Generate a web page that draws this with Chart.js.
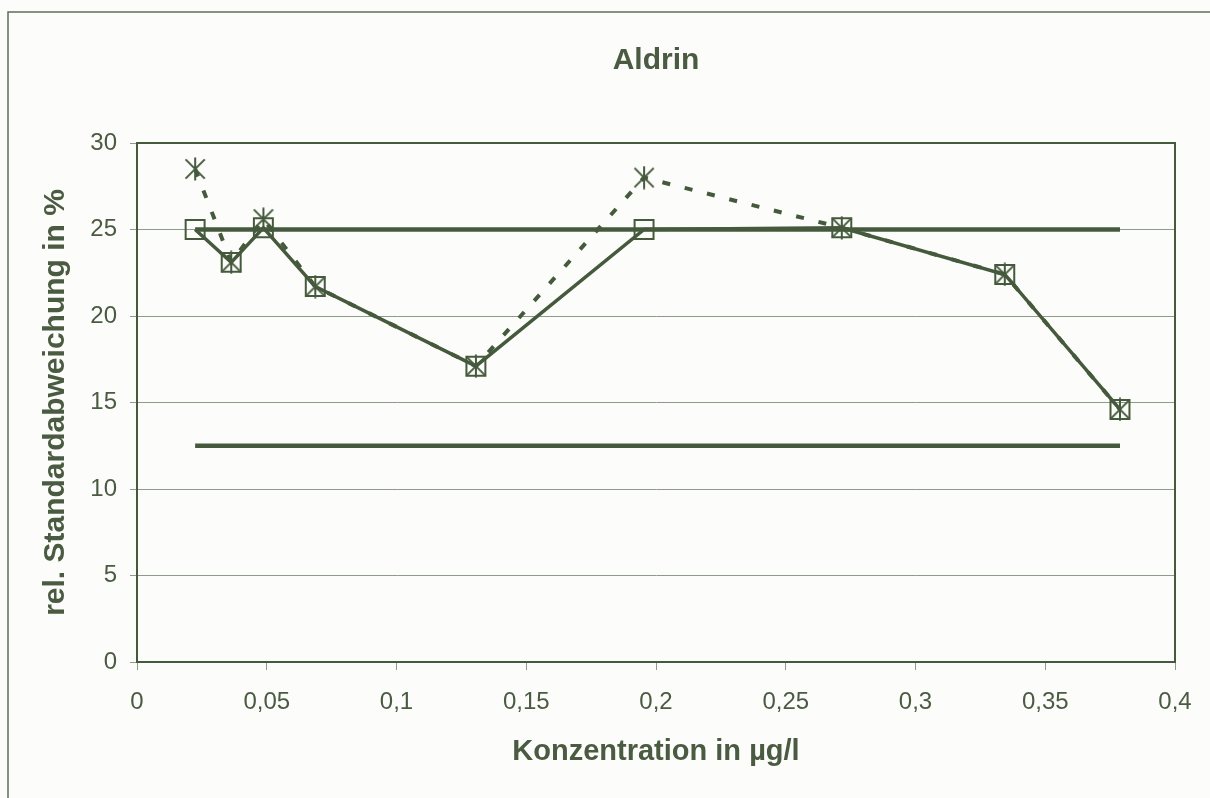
<!DOCTYPE html>
<html>
<head>
<meta charset="utf-8">
<script src="https://cdn.jsdelivr.net/npm/chart.js@4/dist/chart.umd.min.js"></script>
<style>
    html, body { margin: 0; padding: 0; background: #fcfcfa; }
    #c { display: block; }
</style>
</head>
<body>
<canvas id="c" width="1210" height="798"></canvas>
<script>
// Werte
const konzentration = [0.0224, 0.0363, 0.0487, 0.0687, 0.1306, 0.1954, 0.2716, 0.3344, 0.3788];
const rsdKorrigiert = [25.0, 23.1, 25.1, 21.7, 17.1, 25.0, 25.1, 22.4, 14.6];
const rsdGemessen = [28.5, 23.1, 25.6, 21.7, 17.1, 28.0, 25.1, 22.4, 14.6];
const grenzeOben = [25, 25];
const grenzeUnten = [12.5, 12.5];
const xTickLabels = ['0', '0,05', '0,1', '0,15', '0,2', '0,25', '0,3', '0,35', '0,4'];
const yTickLabels = ['0', '5', '10', '15', '20', '25', '30'];

const lineColor = '#455a3c';
const textColor = '#4a5b42';
const gridColor = '#8e9a8a';
const fontFamily = '"Liberation Sans", Arial, sans-serif';

function toPoints(xs, ys) {
    return ys.map((y, i) => ({ x: xs[i], y: y }));
}

// Stern-Marker wie in Excel (X mit senkrechtem Strich)
function makeStar(size) {
    const cv = document.createElement('canvas');
    cv.width = size;
    cv.height = size;
    const g = cv.getContext('2d');
    const m = size / 2;
    const a = size * 0.4;
    g.strokeStyle = lineColor;
    g.lineWidth = 2;
    g.beginPath();
    g.moveTo(m - a, m - a); g.lineTo(m + a, m + a);
    g.moveTo(m + a, m - a); g.lineTo(m - a, m + a);
    g.moveTo(m, 0.5); g.lineTo(m, size - 0.5);
    g.stroke();
    return cv;
}

const frame = {
    id: 'frame',
    beforeDraw(chart) {
        const ctx = chart.ctx;
        ctx.save();
        ctx.fillStyle = '#fcfcfa';
        ctx.fillRect(0, 0, chart.width, chart.height);
        ctx.strokeStyle = '#5f6e5a';
        ctx.lineWidth = 1.5;
        ctx.beginPath();
        ctx.moveTo(8, chart.height);
        ctx.lineTo(8, 12);
        ctx.lineTo(chart.width, 12);
        ctx.stroke();
        ctx.restore();
    },
    beforeDatasetsDraw(chart) {
        const a = chart.chartArea;
        const ctx = chart.ctx;
        ctx.save();
        ctx.strokeStyle = lineColor;
        ctx.lineWidth = 2;
        ctx.strokeRect(a.left, a.top, a.right - a.left, a.bottom - a.top);
        ctx.restore();
    }
};

const xEnds = [konzentration[0], konzentration[konzentration.length - 1]];

new Chart(document.getElementById('c'), {
    type: 'line',
    data: {
        datasets: [
            {
                data: toPoints(konzentration, rsdKorrigiert),
                borderColor: lineColor,
                borderWidth: 3.5,
                pointStyle: 'rect',
                pointRadius: 13.4,
                pointBorderWidth: 2,
                pointBorderColor: lineColor,
                pointBackgroundColor: 'rgba(0,0,0,0)'
            },
            {
                data: toPoints(konzentration, rsdGemessen),
                borderColor: lineColor,
                borderWidth: 4,
                borderDash: [8, 15],
                pointStyle: makeStar(24),
                pointRadius: 12
            },
            {
                data: toPoints(xEnds, grenzeOben),
                borderColor: lineColor,
                borderWidth: 4.5,
                pointRadius: 0
            },
            {
                data: toPoints(xEnds, grenzeUnten),
                borderColor: lineColor,
                borderWidth: 4.5,
                pointRadius: 0
            }
        ]
    },
    options: {
        responsive: false,
        animation: false,
        devicePixelRatio: 1,
        layout: { padding: { left: 0, top: 0, right: 35, bottom: 0 } },
        plugins: {
            legend: { display: false },
            tooltip: { enabled: false },
            title: {
                display: true,
                fullSize: false,
                text: 'Aldrin',
                color: textColor,
                font: { family: fontFamily, size: 30, weight: 'bold' },
                padding: { top: 43, bottom: 64 }
            }
        },
        scales: {
            x: {
                type: 'linear',
                min: 0,
                max: 0.4,
                afterFit(scale) { scale.height = 136; },
                afterBuildTicks(scale) {
                    scale.ticks = xTickLabels.map((t, i) => ({ value: i * 0.05 }));
                },
                ticks: {
                    color: textColor,
                    font: { family: fontFamily, size: 24 },
                    padding: 18,
                    maxRotation: 0,
                    autoSkip: false,
                    callback: (v, i) => xTickLabels[i]
                },
                grid: {
                    drawOnChartArea: false,
                    drawTicks: true,
                    tickLength: 8,
                    tickColor: gridColor
                },
                border: { color: lineColor, width: 2 },
                title: {
                    display: true,
                    text: 'Konzentration in µg/l',
                    color: textColor,
                    font: { family: fontFamily, size: 29, weight: 'bold' },
                    padding: { top: 0, bottom: 29 }
                }
            },
            y: {
                min: 0,
                max: 30,
                afterFit(scale) { scale.width = 137; },
                afterBuildTicks(scale) {
                    scale.ticks = yTickLabels.map((t, i) => ({ value: i * 5 }));
                },
                ticks: {
                    color: textColor,
                    font: { family: fontFamily, size: 24 },
                    padding: 13,
                    callback: (v, i) => yTickLabels[i]
                },
                grid: {
                    color: gridColor,
                    lineWidth: 1,
                    tickLength: 7,
                    tickColor: gridColor
                },
                border: { color: lineColor, width: 2 },
                title: {
                    display: true,
                    text: 'rel. Standardabweichung in %',
                    color: textColor,
                    font: { family: fontFamily, size: 30, weight: 'bold' },
                    padding: { top: 38, bottom: 0 }
                }
            }
        }
    },
    plugins: [frame]
});
</script>
</body>
</html>
